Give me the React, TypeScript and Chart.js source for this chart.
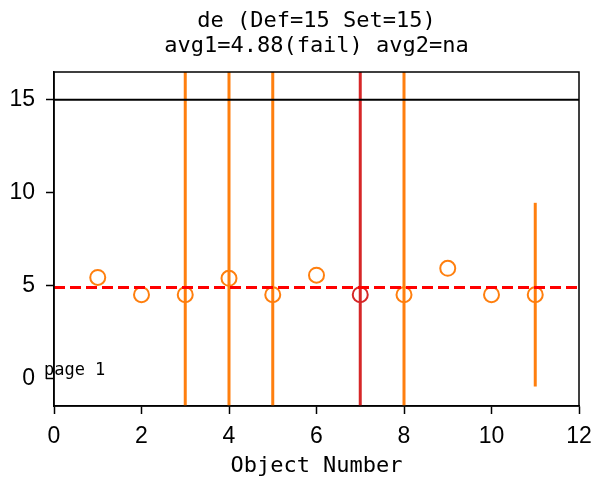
import React, { useEffect, useRef } from 'react';
import { Chart, registerables } from 'chart.js';

Chart.register(...registerables);

// ---- data ----
const objectNumbers = [1, 2, 3, 4, 5, 6, 7, 8, 9, 10, 11];
const values = [5.43, 4.5, 4.5, 5.38, 4.5, 5.55, 4.5, 4.5, 5.92, 4.5, 4.5];
const errors = [0, 0, 30, 30, 30, 0, 30, 30, 0, 0, 4.95];
const failFlags = [false, false, false, false, false, false, true, false, false, false, false];
const setValue = 15;
const avg1 = 4.88;
const xTicks = [0, 2, 4, 6, 8, 10, 12];
const yTicks = [0, 5, 10, 15];
const titleLines = ['de (Def=15 Set=15)', 'avg1=4.88(fail) avg2=na'];
const xAxisTitle = 'Object Number';
const pageLabel = 'page 1';
const pageLabelPos = { x: -0.23, y: 0 };

const ORANGE = '#ff7f0e';
const RED = '#d62728';
const MONO = '"DejaVu Sans Mono", "Liberation Mono", monospace';
const SANS = '"Liberation Sans", Arial, sans-serif';

const framePlugin = {
  id: 'frame',
  afterDatasetsDraw(chart: any) {
    const { ctx, chartArea: a, scales } = chart;
    ctx.save();
    ctx.strokeStyle = '#000';
    ctx.lineWidth = 1.5;
    ctx.strokeRect(a.left, a.top, a.right - a.left, a.bottom - a.top);
    ctx.font = '17px ' + MONO;
    ctx.fillStyle = '#000';
    ctx.textBaseline = 'bottom';
    ctx.textAlign = 'left';
    ctx.fillText(
      pageLabel,
      scales.x.getPixelForValue(pageLabelPos.x),
      scales.y.getPixelForValue(pageLabelPos.y) + 1
    );
    // title, centred over the plot area
    ctx.font = '22px ' + MONO;
    ctx.textAlign = 'center';
    ctx.textBaseline = 'middle';
    const cx = (a.left + a.right) / 2;
    titleLines.forEach((line, i) => {
      ctx.fillText(line, cx, 21 + i * 25);
    });
    ctx.restore();
  },
};

export default function App() {
  const canvasRef = useRef<HTMLCanvasElement | null>(null);

  useEffect(() => {
    if (!canvasRef.current) return;
    const xMin = xTicks[0];
    const xMax = xTicks[xTicks.length - 1];

    const errorBarSets = objectNumbers
      .map((x, i) => ({ x, i }))
      .filter(({ i }) => errors[i] > 0)
      .map(({ x, i }) => ({
        type: 'line' as const,
        data: [
          { x, y: values[i] - errors[i] },
          { x, y: values[i] + errors[i] },
        ],
        borderColor: failFlags[i] ? RED : ORANGE,
        borderWidth: 3,
        pointRadius: 0,
        showLine: true,
      }));

    const chart = new Chart(canvasRef.current, {
      type: 'scatter',
      data: {
        datasets: [
          {
            type: 'line',
            data: [
              { x: xMin, y: setValue },
              { x: xMax, y: setValue },
            ],
            borderColor: '#000',
            borderWidth: 2,
            pointRadius: 0,
            showLine: true,
          },
          {
            type: 'line',
            data: [
              { x: xMin, y: avg1 },
              { x: xMax, y: avg1 },
            ],
            borderColor: '#ff0000',
            borderWidth: 3,
            borderDash: [11, 5],
            pointRadius: 0,
            showLine: true,
          },
          {
            type: 'scatter',
            data: objectNumbers.map((x, i) => ({ x, y: values[i] })),
            pointRadius: 7.5,
            pointBorderWidth: 2,
            pointBackgroundColor: 'rgba(0,0,0,0)',
            pointBorderColor: failFlags.map((f) => (f ? RED : ORANGE)),
          },
          ...errorBarSets,
        ] as any,
      },
      options: {
        responsive: false,
        animation: false,
        layout: { padding: { left: 0, right: 18, top: 72, bottom: 0 } },
        plugins: {
          legend: { display: false },
          tooltip: { enabled: false },
          title: { display: false },
        },
        scales: {
          x: {
            type: 'linear',
            min: xMin,
            max: xMax,
            afterBuildTicks: (s: any) => {
              s.ticks = xTicks.map((v) => ({ value: v }));
            },
            afterFit: (s: any) => {
              s.height = 75;
              s.paddingLeft = 0;
              s.paddingRight = 0;
            },
            grid: {
              drawOnChartArea: false,
              drawTicks: true,
              tickLength: 8,
              color: '#000',
              tickWidth: 1.5,
            },
            border: { display: true, color: '#000', width: 1.5 },
            ticks: {
              color: '#000',
              font: { family: SANS, size: 23 },
              padding: 9,
              maxRotation: 0,
            },
            title: {
              display: true,
              text: xAxisTitle,
              color: '#000',
              font: { family: MONO, size: 22 },
              padding: { top: 0, bottom: 2 },
            },
          },
          y: {
            type: 'linear',
            min: -1.5,
            max: 16.5,
            afterBuildTicks: (s: any) => {
              s.ticks = yTicks.map((v) => ({ value: v }));
            },
            afterFit: (s: any) => {
              s.width = 54;
              s.paddingTop = 0;
              s.paddingBottom = 0;
            },
            grid: {
              drawOnChartArea: false,
              drawTicks: true,
              tickLength: 8,
              color: '#000',
              tickWidth: 1.5,
            },
            border: { display: true, color: '#000', width: 1.5 },
            ticks: {
              color: '#000',
              font: { family: SANS, size: 23 },
              padding: 11,
            },
          },
        },
      },
      plugins: [framePlugin],
    });
    return () => chart.destroy();
  }, []);

  return (
    <div style={{ position: 'absolute', left: 0, top: 0, width: 597, height: 481, background: '#fff' }}>
      <canvas ref={canvasRef} width={597} height={481} style={{ display: 'block' }} />
    </div>
  );
}
